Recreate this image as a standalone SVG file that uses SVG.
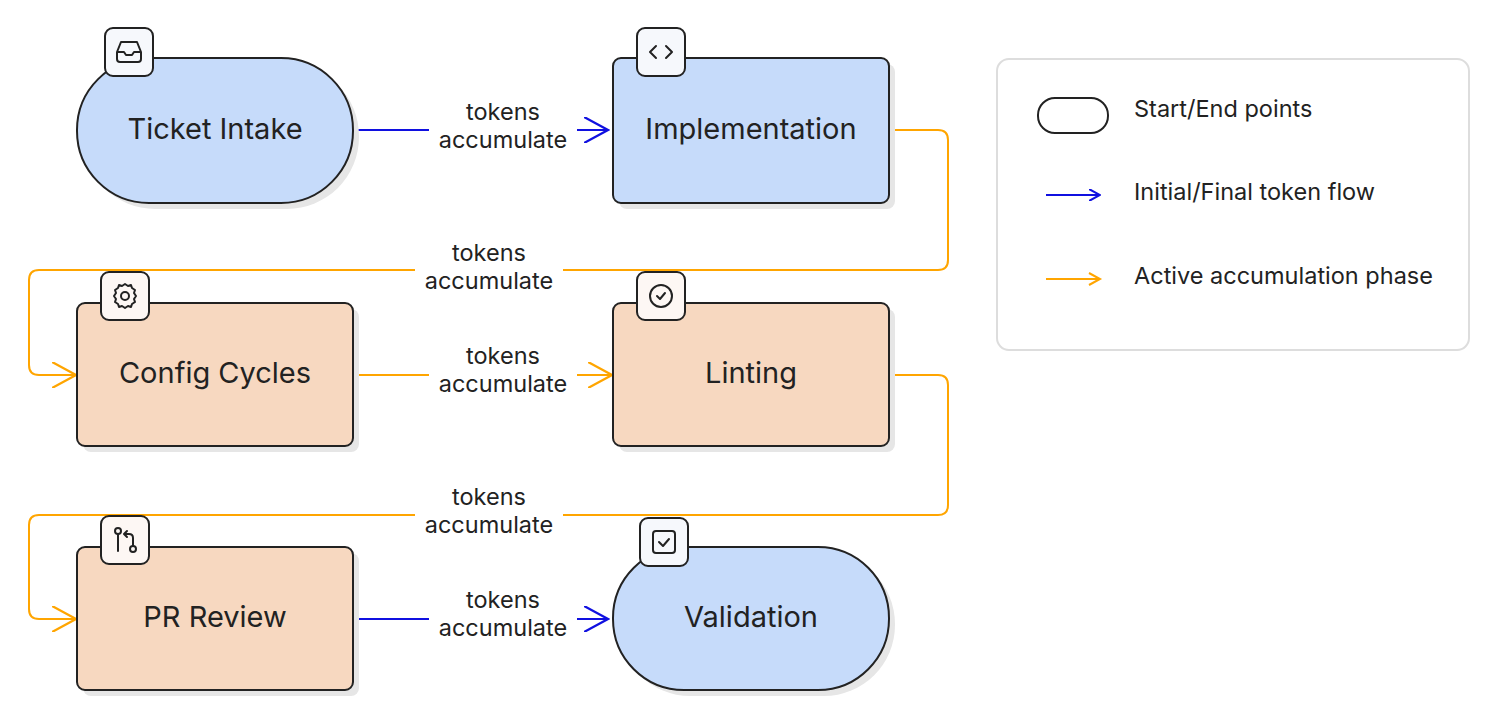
<svg xmlns="http://www.w3.org/2000/svg" width="1500" height="722" viewBox="0 0 1500 722">
<defs>
<style>
text{font-family:Inter,"Liberation Sans",sans-serif;fill:#222}
.nl{font-size:29px;text-anchor:middle;dominant-baseline:central}
.el{font-size:23.5px;text-anchor:middle;dominant-baseline:central}
.lg{font-size:23.5px;dominant-baseline:central}
.sh{fill:#e6e6e6}
.b{fill:#c6dbfa;stroke:#222;stroke-width:2}
.o{fill:#f7d8c0;stroke:#222;stroke-width:2}
.ic{fill:#f6f8fc;stroke:#222;stroke-width:2}
.ico{fill:#fdf7f4;stroke:#222;stroke-width:2}
.g{fill:none;stroke:#222;stroke-width:2;stroke-linecap:round;stroke-linejoin:round}
.cb{fill:none;stroke:#1010e0;stroke-width:2}
.co{fill:none;stroke:#ffa500;stroke-width:2}
.lb{fill:#fff}
</style>
<marker id="ab" viewBox="0 0 12 12" refX="11" refY="6" markerWidth="12" markerHeight="12" markerUnits="userSpaceOnUse" orient="auto"><path d="M0,0 L11,6 L0,12" fill="none" stroke="#1010e0" stroke-width="2"/></marker>
<marker id="ao" viewBox="0 0 12 12" refX="11" refY="6" markerWidth="26" markerHeight="26" markerUnits="userSpaceOnUse" orient="auto"><path d="M0,0 L11,6 L0,12" fill="none" stroke="#ffa500" stroke-width="1"/></marker>
<marker id="ab2" viewBox="0 0 12 12" refX="11" refY="6" markerWidth="26" markerHeight="26" markerUnits="userSpaceOnUse" orient="auto"><path d="M0,0 L11,6 L0,12" fill="none" stroke="#1010e0" stroke-width="1"/></marker>
</defs>
<rect width="1500" height="722" fill="#fff"/>
<g id="connectors">
<path class="cb" d="M355,130 H608" marker-end="url(#ab2)"/>
<path class="co" d="M889,130 H938 Q948,130 948,140 V260 Q948,270 938,270 H39 Q29,270 29,280 V365 Q29,375 39,375 H76" marker-end="url(#ao)"/>
<path class="co" d="M353,375 H612" marker-end="url(#ao)"/>
<path class="co" d="M889,375 H938 Q948,375 948,385 V505 Q948,515 938,515 H39 Q29,515 29,525 V609 Q29,619 39,619 H76" marker-end="url(#ao)"/>
<path class="cb" d="M353,619 H608" marker-end="url(#ab2)"/>
<rect class="lb" x="429" y="96" width="148" height="60"/>
<text class="el" x="503" y="111">tokens</text><text class="el" x="503" y="139">accumulate</text>
<rect class="lb" x="415" y="237" width="148" height="60"/>
<text class="el" x="489" y="252">tokens</text><text class="el" x="489" y="280">accumulate</text>
<rect class="lb" x="429" y="340" width="148" height="60"/>
<text class="el" x="503" y="355">tokens</text><text class="el" x="503" y="383">accumulate</text>
<rect class="lb" x="415" y="481" width="148" height="60"/>
<text class="el" x="489" y="496">tokens</text><text class="el" x="489" y="524">accumulate</text>
<rect class="lb" x="429" y="584" width="148" height="60"/>
<text class="el" x="503" y="599">tokens</text><text class="el" x="503" y="627">accumulate</text>
</g>
<g id="ticket-intake">
<rect class="sh" x="83" y="64" width="276" height="145" rx="72"/>
<rect class="b" x="77" y="58" width="276" height="145" rx="72"/>
<text class="nl" x="215" y="128">Ticket Intake</text>
<rect class="ic" x="105" y="28" width="48" height="48" rx="8"/>
<path class="g" d="M117,52 l4,-10 h16 l4,10 v7 q0,3 -3,3 h-18 q-3,0 -3,-3 z M117,52 h7 l2,3 h6 l2,-3 h7"/>
</g>
<g id="implementation">
<rect class="sh" x="619" y="64" width="276" height="145" rx="8"/>
<rect class="b" x="613" y="58" width="276" height="145" rx="8"/>
<text class="nl" x="751" y="128">Implementation</text>
<rect class="ic" x="637" y="28" width="48" height="48" rx="8"/>
<path class="g" d="M656,46 l-6,6 6,6 M666,46 l6,6 -6,6"/>
</g>
<g id="config-cycles">
<rect class="sh" x="83" y="309" width="276" height="143" rx="8"/>
<rect class="o" x="77" y="303" width="276" height="143" rx="8"/>
<text class="nl" x="215" y="372">Config Cycles</text>
<rect class="ico" x="101" y="272" width="48" height="48" rx="8"/>
<circle class="g" cx="125" cy="296" r="4"/>
<path class="g" d="M125,284 l3,2 3,-1 1,3 3,2 -1,3 2,3 -2,3 1,3 -3,2 -1,3 -3,-1 -3,2 -3,-2 -3,1 -1,-3 -3,-2 1,-3 -2,-3 2,-3 -1,-3 3,-2 1,-3 3,1 z"/>
</g>
<g id="linting">
<rect class="sh" x="619" y="309" width="276" height="143" rx="8"/>
<rect class="o" x="613" y="303" width="276" height="143" rx="8"/>
<text class="nl" x="751" y="372">Linting</text>
<rect class="ico" x="637" y="272" width="48" height="48" rx="8"/>
<circle class="g" cx="661" cy="296" r="11"/>
<path class="g" d="M657,296 l3,3 5,-6"/>
</g>
<g id="pr-review">
<rect class="sh" x="83" y="553" width="276" height="143" rx="8"/>
<rect class="o" x="77" y="547" width="276" height="143" rx="8"/>
<text class="nl" x="215" y="616">PR Review</text>
<rect class="ico" x="101" y="516" width="48" height="48" rx="8"/>
<circle class="g" cx="118" cy="531" r="3"/><circle class="g" cx="133" cy="549" r="3"/>
<path class="g" d="M118,534 v17 M133,546 v-8 q0,-4 -4,-4 h-4 M127,531 l-3,3 3,3"/>
</g>
<g id="validation">
<rect class="sh" x="619" y="553" width="276" height="143" rx="71"/>
<rect class="b" x="613" y="547" width="276" height="143" rx="71"/>
<text class="nl" x="751" y="616">Validation</text>
<rect class="ic" x="640" y="518" width="48" height="48" rx="8"/>
<rect class="g" x="653" y="531" width="22" height="22" rx="3"/>
<path class="g" d="M659,542 l4,4 6,-7"/>
</g>
<g id="legend">
<rect x="997" y="59" width="472" height="291" rx="12" fill="#fff" stroke="#ddd" stroke-width="2"/>
<rect x="1038" y="98" width="70" height="35" rx="17" fill="#fff" stroke="#222" stroke-width="2"/>
<text class="lg" x="1134" y="108">Start/End points</text>
<path class="cb" d="M1046,195 H1100" marker-end="url(#ab)"/>
<text class="lg" x="1134" y="191">Initial/Final token flow</text>
<path class="co" d="M1046,279 H1100"/>
<path d="M1089,273 L1100,279 1089,285" fill="none" stroke="#ffa500" stroke-width="2"/>
<text class="lg" x="1134" y="275">Active accumulation phase</text>
</g>
</svg>
